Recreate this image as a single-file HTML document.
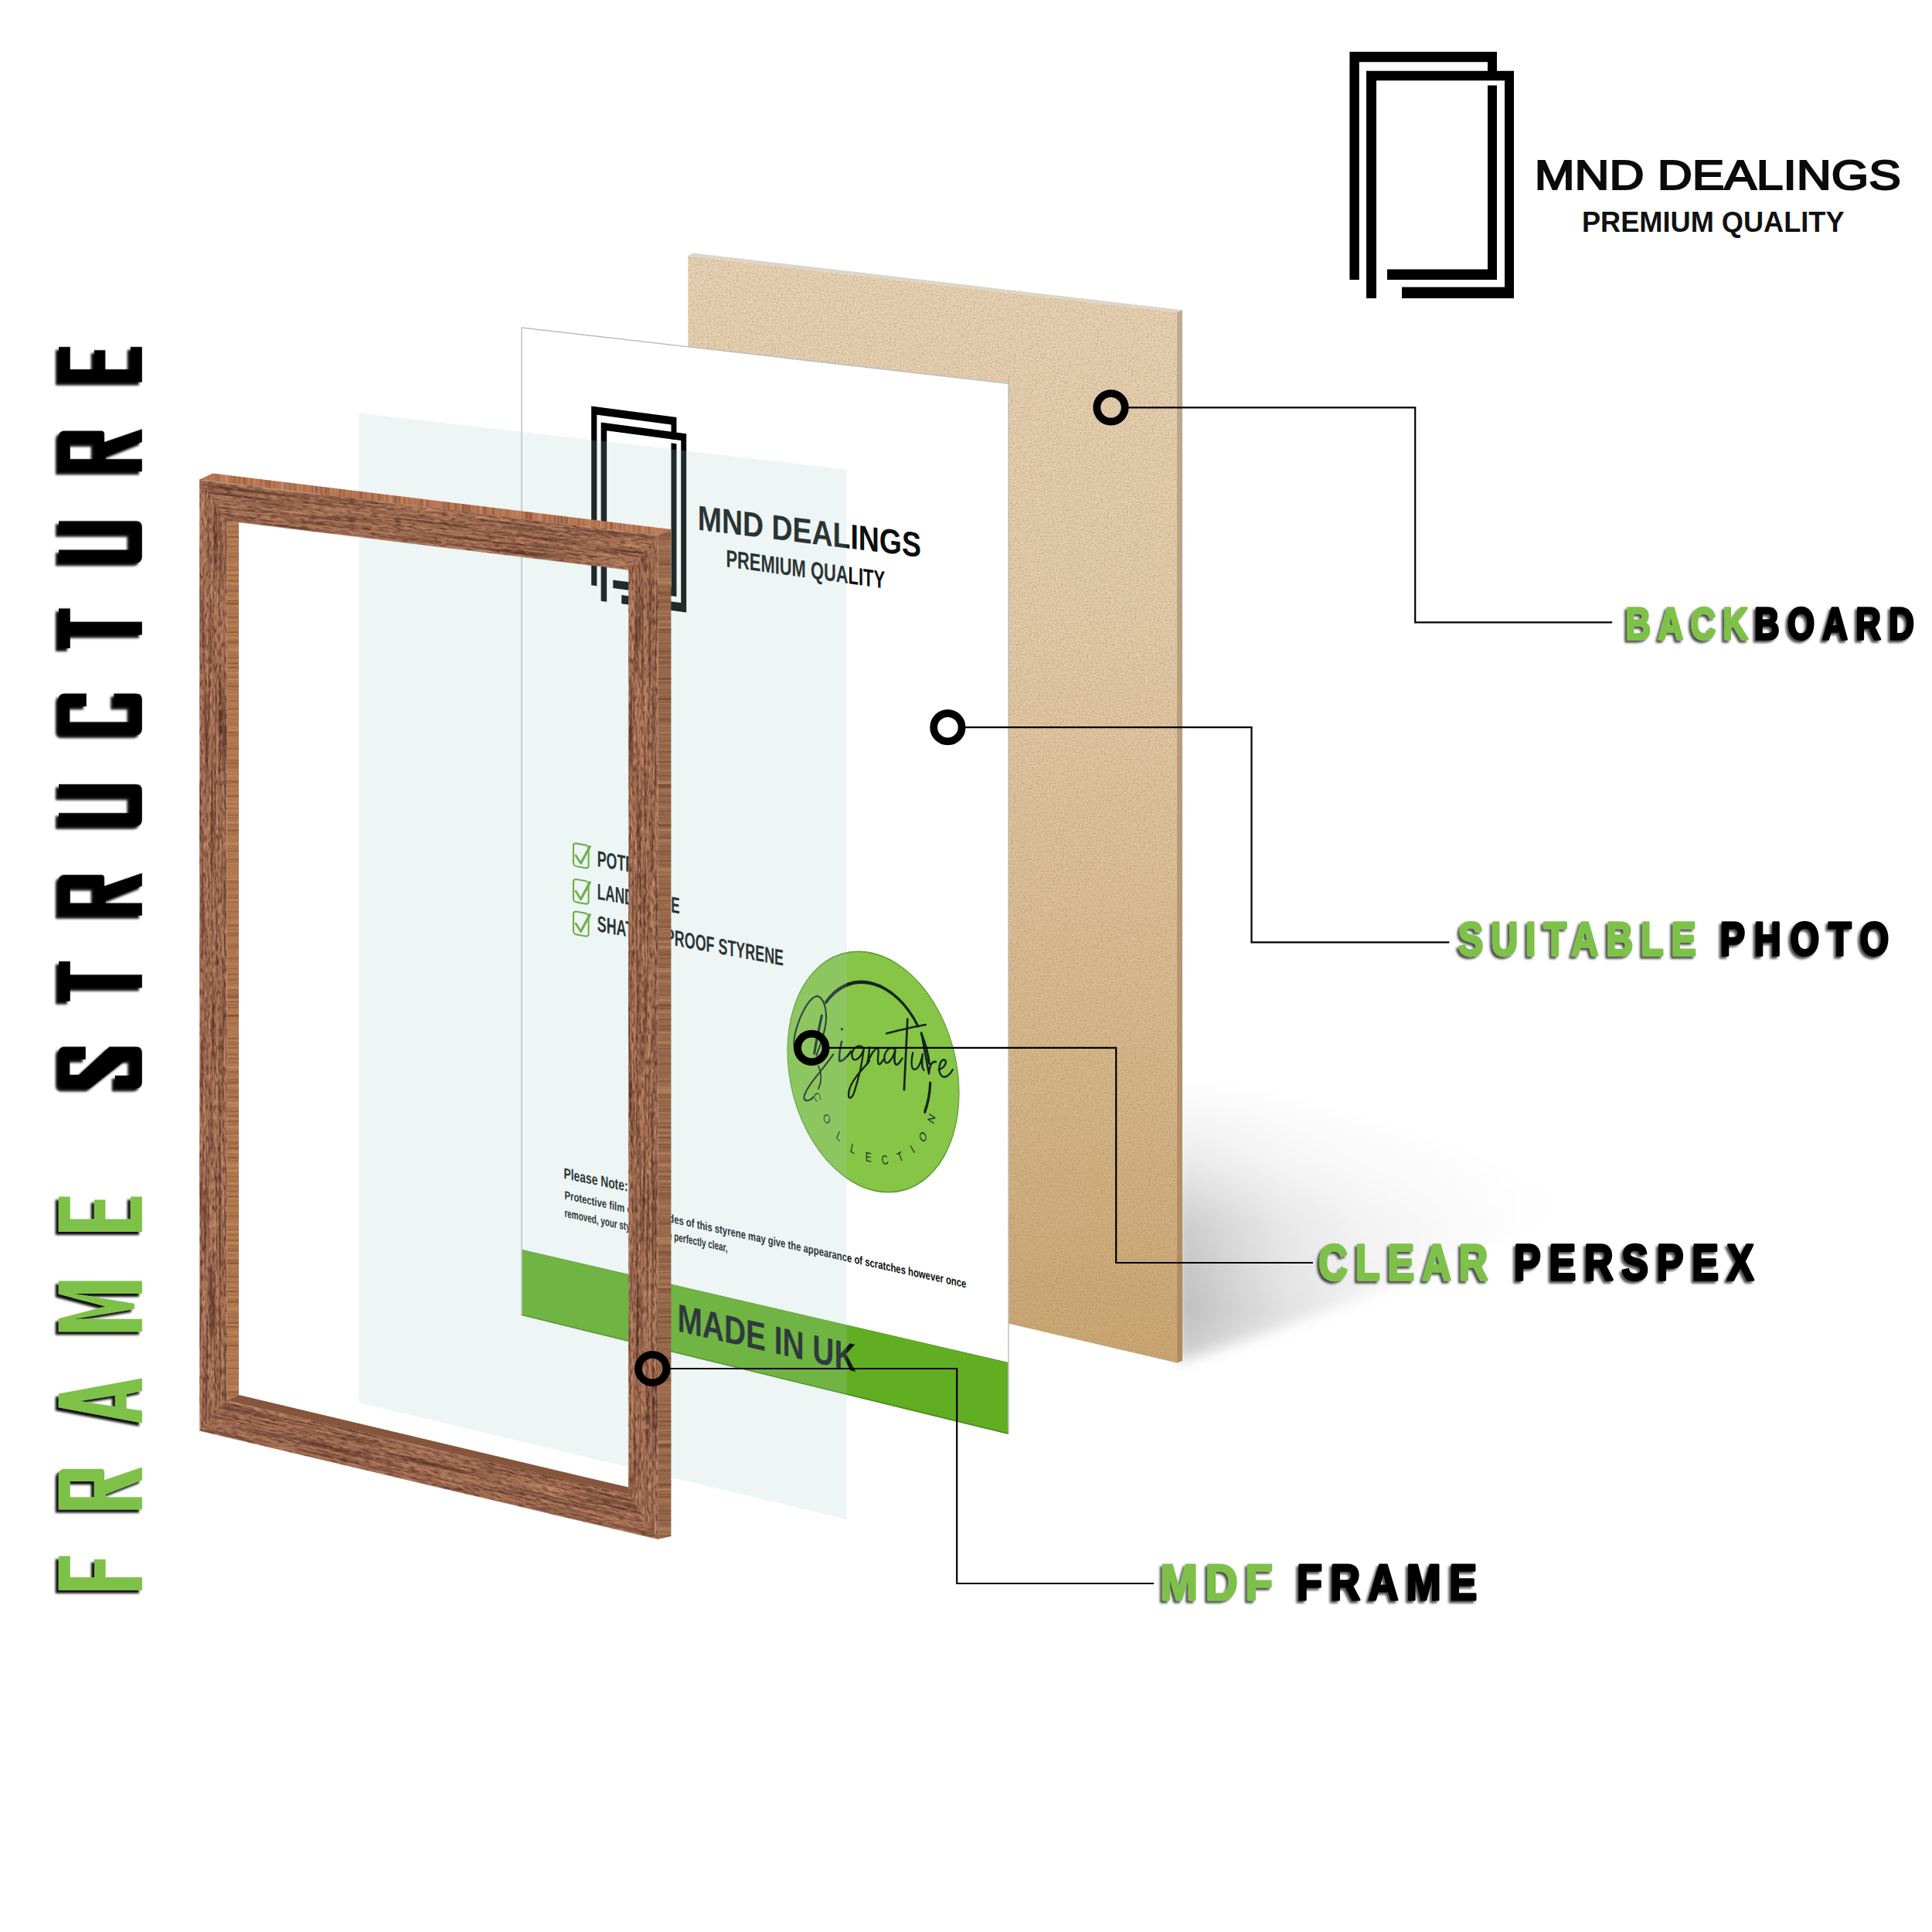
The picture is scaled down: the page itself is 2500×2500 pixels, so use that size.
<!DOCTYPE html>
<html><head><meta charset="utf-8"><title>Frame Structure</title>
<style>
html,body{margin:0;padding:0;background:#fff;}
body{width:2500px;height:2500px;overflow:hidden;font-family:"Liberation Sans",sans-serif;}
svg{display:block;position:absolute;left:0;top:0;}
text{font-family:"Liberation Sans",sans-serif;}
</style></head><body>
<svg width="2500" height="2500" viewBox="0 0 2500 2500">
<defs>

<filter id="ds" x="-20%" y="-20%" width="140%" height="140%">
  <feGaussianBlur in="SourceAlpha" stdDeviation="1.6" result="b"/>
  <feOffset in="b" dx="-4" dy="3.5" result="o"/>
  <feComponentTransfer in="o" result="o2"><feFuncA type="linear" slope="0.95"/></feComponentTransfer>
  <feMerge><feMergeNode in="o2"/><feMergeNode in="SourceGraphic"/></feMerge>
</filter>
<filter id="ds2" x="-10%" y="-30%" width="120%" height="160%">
  <feGaussianBlur in="SourceAlpha" stdDeviation="1.8" result="b"/>
  <feOffset in="b" dx="-3" dy="3" result="o"/>
  <feComponentTransfer in="o" result="o2"><feFuncA type="linear" slope="0.7"/></feComponentTransfer>
  <feMerge><feMergeNode in="o2"/><feMergeNode in="SourceGraphic"/></feMerge>
</filter>
<filter id="blur14" x="-30%" y="-30%" width="160%" height="160%"><feGaussianBlur stdDeviation="9"/></filter>
<filter id="blur1"><feGaussianBlur stdDeviation="0.7"/></filter>
<linearGradient id="gBoard" x1="0" y1="331" x2="0" y2="1763" gradientUnits="userSpaceOnUse">
  <stop offset="0" stop-color="#e6d3b6"/><stop offset="0.35" stop-color="#e1cba9"/>
  <stop offset="0.7" stop-color="#d6b98d"/><stop offset="1" stop-color="#caa775"/>
</linearGradient>
<linearGradient id="gBoardSide" x1="0" y1="401" x2="0" y2="1763" gradientUnits="userSpaceOnUse">
  <stop offset="0" stop-color="#bdab92"/><stop offset="1" stop-color="#ad8a5a"/>
</linearGradient>
<linearGradient id="gShadow" x1="1529" y1="0" x2="2010" y2="0" gradientUnits="userSpaceOnUse">
  <stop offset="0" stop-color="#000" stop-opacity="0.27"/><stop offset="0.12" stop-color="#000" stop-opacity="0.2"/><stop offset="0.28" stop-color="#000" stop-opacity="0.12"/>
  <stop offset="0.5" stop-color="#000" stop-opacity="0.06"/><stop offset="0.8" stop-color="#000" stop-opacity="0.02"/>
  <stop offset="1" stop-color="#000" stop-opacity="0"/>
</linearGradient>
<linearGradient id="gShadowV" x1="0" y1="1395" x2="0" y2="1770" gradientUnits="userSpaceOnUse">
  <stop offset="0" stop-color="#fff" stop-opacity="0"/><stop offset="0.28" stop-color="#fff" stop-opacity="0.3"/><stop offset="0.5" stop-color="#fff" stop-opacity="0.75"/><stop offset="0.8" stop-color="#fff" stop-opacity="0.95"/><stop offset="1" stop-color="#fff" stop-opacity="0.65"/>
</linearGradient>
<mask id="mShadow"><rect x="1400" y="1300" width="800" height="600" fill="url(#gShadowV)"/></mask>
<filter id="mdf" color-interpolation-filters="sRGB" x="0" y="0" width="100%" height="100%">
  <feTurbulence type="fractalNoise" baseFrequency="0.45" numOctaves="2" seed="7" result="n"/>
  <feColorMatrix in="n" type="matrix" values="0 0 0 0 0.62  0 0 0 0 0.45  0 0 0 0 0.27  0.6 0.6 0 0 -0.53" result="sp"/>
  <feComposite in="sp" in2="SourceGraphic" operator="in" result="sp2"/>
  <feMerge><feMergeNode in="SourceGraphic"/><feMergeNode in="sp2"/></feMerge>
</filter>
<filter id="woodV" color-interpolation-filters="sRGB" x="0" y="0" width="100%" height="100%">
  <feTurbulence type="fractalNoise" baseFrequency="0.3 0.008" numOctaves="3" seed="3" result="n"/>
  <feColorMatrix in="n" type="matrix" values="0 0 0 0 0.32  0 0 0 0 0.18  0 0 0 0 0.14  1.6 1.2 0 0 -1.2" result="dk"/>
  <feComposite in="dk" in2="SourceGraphic" operator="in" result="dk2"/>
  <feTurbulence type="fractalNoise" baseFrequency="0.4 0.015" numOctaves="2" seed="11" result="n2"/>
  <feColorMatrix in="n2" type="matrix" values="0 0 0 0 0.82  0 0 0 0 0.6  0 0 0 0 0.44  0 1.8 0 0 -0.82" result="lt"/>
  <feComposite in="lt" in2="SourceGraphic" operator="in" result="lt2"/>
  <feTurbulence type="fractalNoise" baseFrequency="0.4 0.1" numOctaves="2" seed="23" result="g0"/><feGaussianBlur in="g0" stdDeviation="0.6" result="g"/>
  <feColorMatrix in="g" type="matrix" values="0 0 0 0 0.3  0 0 0 0 0.16  0 0 0 0 0.12  2.0 0 0 0 -0.95" result="gd"/>
  <feComposite in="gd" in2="SourceGraphic" operator="in" result="gd2"/>
  <feColorMatrix in="g" type="matrix" values="0 0 0 0 0.84  0 0 0 0 0.63  0 0 0 0 0.46  0 1.7 0 0 -0.86" result="gl"/>
  <feComposite in="gl" in2="SourceGraphic" operator="in" result="gl2"/>
  <feMerge><feMergeNode in="SourceGraphic"/><feMergeNode in="lt2"/><feMergeNode in="dk2"/><feMergeNode in="gl2"/><feMergeNode in="gd2"/></feMerge>
</filter>
<filter id="woodH" color-interpolation-filters="sRGB" x="0" y="0" width="100%" height="100%">
  <feTurbulence type="fractalNoise" baseFrequency="0.008 0.3" numOctaves="3" seed="5" result="n"/>
  <feColorMatrix in="n" type="matrix" values="0 0 0 0 0.32  0 0 0 0 0.18  0 0 0 0 0.14  1.6 1.2 0 0 -1.2" result="dk"/>
  <feComposite in="dk" in2="SourceGraphic" operator="in" result="dk2"/>
  <feTurbulence type="fractalNoise" baseFrequency="0.015 0.4" numOctaves="2" seed="13" result="n2"/>
  <feColorMatrix in="n2" type="matrix" values="0 0 0 0 0.82  0 0 0 0 0.6  0 0 0 0 0.44  0 1.8 0 0 -0.82" result="lt"/>
  <feComposite in="lt" in2="SourceGraphic" operator="in" result="lt2"/>
  <feTurbulence type="fractalNoise" baseFrequency="0.1 0.4" numOctaves="2" seed="25" result="g0"/><feGaussianBlur in="g0" stdDeviation="0.6" result="g"/>
  <feColorMatrix in="g" type="matrix" values="0 0 0 0 0.3  0 0 0 0 0.16  0 0 0 0 0.12  2.0 0 0 0 -0.95" result="gd"/>
  <feComposite in="gd" in2="SourceGraphic" operator="in" result="gd2"/>
  <feColorMatrix in="g" type="matrix" values="0 0 0 0 0.84  0 0 0 0 0.63  0 0 0 0 0.46  0 1.7 0 0 -0.86" result="gl"/>
  <feComposite in="gl" in2="SourceGraphic" operator="in" result="gl2"/>
  <feMerge><feMergeNode in="SourceGraphic"/><feMergeNode in="lt2"/><feMergeNode in="dk2"/><feMergeNode in="gl2"/><feMergeNode in="gd2"/></feMerge>
</filter>
<filter id="sideH" color-interpolation-filters="sRGB" x="0" y="0" width="100%" height="100%">
  <feTurbulence type="fractalNoise" baseFrequency="0.004 0.3" numOctaves="2" seed="31" result="n"/>
  <feColorMatrix in="n" type="matrix" values="0 0 0 0 0.38  0 0 0 0 0.22  0 0 0 0 0.15  1.3 0.9 0 0 -1.08" result="dk"/>
  <feComposite in="dk" in2="SourceGraphic" operator="in" result="dk2"/>
  <feColorMatrix in="n" type="matrix" values="0 0 0 0 0.85  0 0 0 0 0.64  0 0 0 0 0.46  0 0 1.5 0 -0.74" result="lt"/>
  <feComposite in="lt" in2="SourceGraphic" operator="in" result="lt2"/>
  <feMerge><feMergeNode in="SourceGraphic"/><feMergeNode in="lt2"/><feMergeNode in="dk2"/></feMerge>
</filter>
<filter id="sideV" color-interpolation-filters="sRGB" x="0" y="0" width="100%" height="100%">
  <feTurbulence type="fractalNoise" baseFrequency="0.3 0.004" numOctaves="2" seed="37" result="n"/>
  <feColorMatrix in="n" type="matrix" values="0 0 0 0 0.38  0 0 0 0 0.22  0 0 0 0 0.15  1.3 0.9 0 0 -1.08" result="dk"/>
  <feComposite in="dk" in2="SourceGraphic" operator="in" result="dk2"/>
  <feColorMatrix in="n" type="matrix" values="0 0 0 0 0.85  0 0 0 0 0.64  0 0 0 0 0.46  0 0 1.5 0 -0.74" result="lt"/>
  <feComposite in="lt" in2="SourceGraphic" operator="in" result="lt2"/>
  <feMerge><feMergeNode in="SourceGraphic"/><feMergeNode in="lt2"/><feMergeNode in="dk2"/></feMerge>
</filter>
</defs>
<rect width="2500" height="2500" fill="#fff"/>
<g id="logoTR">
<path d="M1746.4,66.9 H1937 V104 H1925 V80.2 H1758.8 V362 H1746.4 Z" fill="#000"/>
<path d="M1925,110.5 H1937 V362 H1795 V348.5 H1925 Z" fill="#000"/>
<path d="M1768,91.8 H1959 V386 H1814 V371.5 H1947 V104.2 H1781 V386 H1768 Z" fill="#000"/>
<text x="1985.7" y="245.2" font-size="54" font-weight="400" textLength="474" lengthAdjust="spacingAndGlyphs" fill="#0b0b0b" stroke="#0b0b0b" stroke-width="2.2">MND DEALINGS</text>
<text x="2047" y="300" font-size="37.6" font-weight="700" textLength="339.5" lengthAdjust="spacingAndGlyphs" fill="#111">PREMIUM QUALITY</text>
</g>
<g filter="url(#blur14)" mask="url(#mShadow)"><polygon points="1522.0,1392.0 1522.0,1764.0 1650.0,1722.0 1800.0,1664.0 1950.0,1600.0 2040.0,1556.0 1900.0,1496.0 1750.0,1448.0 1620.0,1412.0" fill="url(#gShadow)"/></g>
<g id="board">
<polygon points="890.3,331.0 1522.9,404.0 1522.9,1763.4 890.3,1616.0" fill="url(#gBoard)" filter="url(#mdf)"/>
<polygon points="890.3,331.0 897.0,327.4 1530.0,401.2 1522.9,404.0" fill="#ded5c8"/>
<polygon points="1522.9,404.0 1530.0,401.2 1530.0,1760.9 1522.9,1763.4" fill="url(#gBoardSide)"/>
</g>
<g id="photo">
<polygon points="675.0,424.0 1305.0,496.4 1305.0,1855.0 675.0,1701.5" fill="#fff" stroke="#b9bdbf" stroke-width="1.4"/>
<polygon points="675.7,1617.4 1304.3,1763.3 1304.3,1855.6 675.7,1702.1" fill="#62ae22"/>
<line x1="675.7" y1="1701.5" x2="1304.3" y2="1855.0" stroke="#4c8c1c" stroke-width="1.6"/>
<line x1="675.7" y1="1617.4" x2="1304.3" y2="1763.3" stroke="#559a20" stroke-width="1"/>
<g transform="matrix(0.5786,0.0764,0,0.7859,-245.3,339.4)" fill="#000"><path d="M1746.4,66.9 H1937 V104 H1925 V80.2 H1758.8 V362 H1746.4 Z"/><path d="M1925,110.5 H1937 V362 H1795 V348.5 H1925 Z"/><path d="M1768,91.8 H1959 V386 H1814 V371.5 H1947 V104.2 H1781 V386 H1768 Z"/></g>
<text transform="matrix(1,0.1227,0,1,902.7,685.5)" font-size="45" font-weight="700" textLength="289.3" lengthAdjust="spacingAndGlyphs" fill="#0a0e0e" >MND DEALINGS</text>
<text transform="matrix(1,0.1372,0,1,939.4,733.2)" font-size="31.5" font-weight="700" textLength="205.6" lengthAdjust="spacingAndGlyphs" fill="#0a0e0e" >PREMIUM QUALITY</text>
<text transform="matrix(1,0.1737,0,1,772.7,1121.0)" font-size="29" font-weight="700" textLength="78.3" lengthAdjust="spacingAndGlyphs" fill="#0a0e0e" >POTRAIT</text>
<g transform="matrix(1,0.18,0,1,741.2,1089.8)" fill="none" stroke="#5cab2a" stroke-linecap="round" stroke-linejoin="round"><rect x="0.8" y="0.8" width="19.6" height="29.6" rx="3.5" stroke-width="2.1"/><path d="M4,16.5 L10.3,25.5 L22.2,1.5" stroke-width="3"/></g>
<text transform="matrix(1,0.1746,0,1,772.7,1163.5)" font-size="29" font-weight="700" textLength="107.1" lengthAdjust="spacingAndGlyphs" fill="#0a0e0e" >LANDSCAPE</text>
<g transform="matrix(1,0.18,0,1,741.2,1136.2)" fill="none" stroke="#5cab2a" stroke-linecap="round" stroke-linejoin="round"><rect x="0.8" y="0.8" width="19.6" height="29.6" rx="3.5" stroke-width="2.1"/><path d="M4,16.5 L10.3,25.5 L22.2,1.5" stroke-width="3"/></g>
<text transform="matrix(1,0.1848,0,1,772.7,1205.0)" font-size="29" font-weight="700" textLength="241.3" lengthAdjust="spacingAndGlyphs" fill="#0a0e0e" >SHATTER PROOF STYRENE</text>
<g transform="matrix(1,0.18,0,1,741.2,1178.0)" fill="none" stroke="#5cab2a" stroke-linecap="round" stroke-linejoin="round"><rect x="0.8" y="0.8" width="19.6" height="29.6" rx="3.5" stroke-width="2.1"/><path d="M4,16.5 L10.3,25.5 L22.2,1.5" stroke-width="3"/></g>
<g transform="matrix(0.7236,0.177,0,1,1130,1387)"><circle r="153.4" fill="#86c546" stroke="#5c9c30" stroke-width="1.6"/><g fill="none" stroke="#16241f" stroke-width="4.4" stroke-linecap="round" transform="translate(-3,-9)"><path d="M-81.6,-66.1 A105,105 0 0 1 82.7,-64.6"/><path d="M89.0,-55.6 A105,105 0 0 1 103.1,-20.0"/><path d="M104.9,5.5 A105,105 0 0 1 95.2,44.4"/></g><path id="colArc" d="M-108.9,44.0 A117.5,117.5 0 0 0 113.5,30.4" fill="none"/><text font-size="16.5" fill="#1d2a25" letter-spacing="19.5"><textPath href="#colArc" startOffset="4">COLLECTION</textPath></text></g>
<g transform="translate(1015,1270) scale(0.08798)" fill="none" stroke="#16241f" stroke-linecap="round" stroke-linejoin="round"><path stroke-width="24" d="M480,215 C380,230 270,420 200,620 C130,820 120,980 180,1080"/><path stroke-width="24" d="M480,215 C580,230 630,420 610,600 C590,780 520,960 470,1090"/><path stroke-width="36" d="M550,500 C520,640 470,860 440,1060"/><path stroke-width="24" d="M720,1070 C650,1180 520,1330 420,1460 C340,1570 280,1660 290,1720 C300,1770 380,1760 425,1700"/><path stroke-width="20" d="M500,1240 C540,1330 560,1450 500,1580"/></g>
<g transform="translate(1000,1210) scale(0.18118)" fill="none" stroke="#16241f" stroke-linecap="round" stroke-linejoin="round">
<path stroke-width="14" d="M492,760 C480,810 470,860 476,900 C500,905 530,870 560,830"/><circle cx="494" cy="672" r="9" fill="#16241f" stroke="none"/><path stroke-width="13" d="M640,800 C600,770 550,830 570,880 C590,915 640,860 650,810 C640,900 620,1000 585,1110 C565,1180 530,1180 545,1110 C565,1030 640,960 690,900"/><path stroke-width="13" d="M690,800 C690,850 680,890 672,925 C690,870 730,800 750,810 C765,830 740,890 755,920 C765,930 780,905 790,890"/><path stroke-width="13" d="M870,815 C830,780 785,850 800,900 C815,940 860,880 875,820 C868,870 862,910 880,925 C895,930 910,905 925,880"/><path stroke-width="15" d="M962,600 C955,760 945,950 938,1105"/><path stroke-width="14" d="M812,702 C900,680 1000,655 1092,640"/><path stroke-width="13" d="M1000,840 C990,890 985,950 1010,960 C1040,960 1060,900 1070,850 C1065,900 1060,950 1080,965"/><path stroke-width="14" d="M1062,700 C1075,780 1095,880 1115,990 C1120,940 1130,900 1165,905"/><path stroke-width="13" d="M1185,960 C1230,950 1250,900 1225,890 C1190,890 1175,970 1205,1005 C1235,1030 1270,990 1285,960"/></g>
<text transform="matrix(1,0.2024,0,1,729.5,1525.0)" font-size="19.8" font-weight="700" textLength="83.0" lengthAdjust="spacingAndGlyphs" fill="#0a0e0e" >Please Note:</text>
<text transform="matrix(1,0.2216,0,1,730.5,1551.4)" font-size="15.2" font-weight="700" textLength="519.8" lengthAdjust="spacingAndGlyphs" fill="#0a0e0e" >Protective film on both sides of this styrene may give the appearance of scratches however once</text>
<text transform="matrix(1,0.2152,0,1,730.5,1574.6)" font-size="15.2" font-weight="700" textLength="211.0" lengthAdjust="spacingAndGlyphs" fill="#0a0e0e" >removed, your styrene will be perfectly clear,</text>
<text transform="matrix(1,0.2273,0,1,876.5,1722.5)" font-size="51" font-weight="700" textLength="231.0" lengthAdjust="spacingAndGlyphs" fill="#10161a" >MADE IN UK</text>

</g>
<g id="perspex">
<polygon points="464.5,534.4 1095.9,607.5 1095.9,1966.2 464.5,1815.2" fill="#aacdcd" fill-opacity="0.20"/>
</g>
<g id="frame">
<polygon points="258.3,620.6 275.3,612.6 868.4,685.0 851.3,693.0" fill="#b87654" filter="url(#sideV)"/>
<polygon points="851.3,693.0 868.4,685.0 868.4,1988.0 851.3,1991.7" fill="#98684b" filter="url(#sideH)"/>
<polygon points="293.4,674.1 309.0,676.0 309.0,1805.0 293.4,1812.3" fill="#b1774f" filter="url(#sideH)"/>
<polygon points="309.0,1805.0 813.3,1924.6 813.3,1933.7 293.4,1812.3" fill="#85553c"/>
<polygon points="258.3,620.6 293.4,674.1 293.4,1812.3 258.3,1851.4" fill="#a97359" filter="url(#woodV)"/>
<polygon points="851.3,693.0 813.3,737.6 813.3,1933.7 851.3,1991.7" fill="#a97359" filter="url(#woodV)"/>
<g transform="matrix(1,0.1221,0,1,0,-31.538)"><polygon points="258.3,620.6 851.3,620.6 813.3,669.8 293.4,669.8" fill="#a97359" filter="url(#woodH)"/></g>
<g transform="matrix(1,0.2366,0,1,0,-69.418)"><polygon points="293.4,1812.3 813.3,1810.7 851.3,1859.7 258.3,1859.7" fill="#a56f56" filter="url(#woodH)"/></g>
<line x1="258.3" y1="620.6" x2="293.4" y2="674.1" stroke="#6e4330" stroke-width="1" stroke-opacity="0.55"/>
<line x1="851.3" y1="693.0" x2="813.3" y2="737.6" stroke="#6e4330" stroke-width="1" stroke-opacity="0.55"/>
<line x1="258.3" y1="1851.4" x2="293.4" y2="1812.3" stroke="#6e4330" stroke-width="1" stroke-opacity="0.55"/>
<line x1="851.3" y1="1991.7" x2="813.3" y2="1933.7" stroke="#6e4330" stroke-width="1" stroke-opacity="0.55"/>
</g>
<g id="connectors" fill="none" stroke="#000">
<polyline points="1459.5,527.3 1831.2,527.3 1831.2,805.4 2086.2,805.4" stroke-width="2.2"/>
<circle cx="1437.5" cy="527.3" r="18.2" stroke-width="9.8"/>
<polyline points="1248.4,941.2 1619.5,941.2 1619.5,1219.4 1875.4,1219.4" stroke-width="2.2"/>
<circle cx="1226.4" cy="941.2" r="18.2" stroke-width="9.8"/>
<polyline points="1072.3,1355.9 1444.2,1355.9 1444.2,1634.0 1698.9,1634.0" stroke-width="2.2"/>
<circle cx="1050.3" cy="1355.9" r="18.2" stroke-width="9.8"/>
<polyline points="866.2,1771.0 1238.2,1771.0 1238.2,2049.0 1493.2,2049.0" stroke-width="2.2"/>
<circle cx="844.2" cy="1771.0" r="18.2" stroke-width="9.8"/>
</g>
<g filter="url(#ds2)" font-size="56.5" font-weight="700" stroke-width="3.25" stroke-linejoin="round"><text transform="translate(2103.6,826.5) scale(0.8,1)" textLength="198.0" lengthAdjust="spacing" fill="#7ec149" stroke="#7ec149" stroke-width="3.25">BACK</text><text transform="translate(2270.0,826.5) scale(0.8,1)" textLength="258.5" lengthAdjust="spacing" fill="#000" stroke="#000" stroke-width="3.25">BOARD</text></g>
<g filter="url(#ds2)" font-size="60.7" font-weight="700" stroke-width="3.25" stroke-linejoin="round"><text transform="translate(1887.0,1235.5) scale(0.8,1)" textLength="385.0" lengthAdjust="spacing" fill="#7ec149" stroke="#7ec149" stroke-width="3.25">SUITABLE</text><text transform="translate(2225.7,1235.5) scale(0.8,1)" textLength="273.1" lengthAdjust="spacing" fill="#000" stroke="#000" stroke-width="3.25">PHOTO</text></g>
<g filter="url(#ds2)" font-size="65.2" font-weight="700" stroke-width="3.25" stroke-linejoin="round"><text transform="translate(1706.2,1655.5) scale(0.8,1)" textLength="274.0" lengthAdjust="spacing" fill="#7ec149" stroke="#7ec149" stroke-width="3.25">CLEAR</text><text transform="translate(1959.0,1655.5) scale(0.8,1)" textLength="388.1" lengthAdjust="spacing" fill="#000" stroke="#000" stroke-width="3.25">PERSPEX</text></g>
<g filter="url(#ds2)" font-size="65.2" font-weight="700" stroke-width="3.13253" stroke-linejoin="round"><text transform="translate(1501.2,2070.1) scale(0.9,1)" textLength="162.0" lengthAdjust="spacing" fill="#7ec149" stroke="#7ec149" stroke-width="2.89">MDF</text><text transform="translate(1678.0,2070.1) scale(0.83,1)" textLength="281.0" lengthAdjust="spacing" fill="#000" stroke="#000" stroke-width="3.13">FRAME</text></g>
<g id="title" filter="url(#ds)">
<g transform="translate(75.8,2057.8) rotate(-90)" fill-rule="evenodd">
<path transform="translate(0.0,0)" d="M0,0 H44.2 V15 H16.8 V46.2 H40.1 V60.8 H16.8 V108.1 H0 Z" fill="#7ec149"/>
<path transform="translate(104.4,0)" d="M0,0 H44.7 Q52.7,0 52.7,8 V55 Q52.7,59.3 48.7,59.3 H38.2 L55,108.1 H38.2 L19.6,61 H16.2 V108.1 H0 Z M16.2,15 V46 H36.3 V15 Z" fill="#7ec149"/>
<path transform="translate(216.2,0)" d="M20.3,0 H38 L58,108.1 H41.7 L37.3,87.9 H19.2 L16,108.1 H0 Z M28.6,27.6 L21.7,73.1 H35.9 Z" fill="#7ec149"/>
<path transform="translate(334.5,0)" d="M0,0 H17 L32.9,60.6 L48.8,0 H65.8 V108.1 H49.3 V20 L36.5,98 H29.3 L16.5,20 V108.1 H0 Z" fill="#7ec149"/>
<path transform="translate(463.8,0)" d="M0,0 H45.6 V15 H16.6 V46 H41.4 V60.6 H16.6 V93 H45.6 V108.1 H0 Z" fill="#7ec149"/>
<path transform="translate(649.6,0)" d="M8,0 H45.8 Q53.8,0 53.8,8 V35 H37.3 V14.5 H17.5 V26.5 L53.8,65.8 V100.1 Q53.8,108.1 45.8,108.1 H8 Q0,108.1 0,100.1 V73 H16.5 V93.6 H36.5 V86.5 L1.5,42.5 Q0,41 0,38 V8 Q0,0 8,0 Z" fill="#000"/>
<path transform="translate(762.3,0)" d="M0,0 H51.5 V15 H34.25 V108.1 H17.25 V15 H0 Z" fill="#000"/>
<path transform="translate(873.1,0)" d="M0,0 H44.7 Q52.7,0 52.7,8 V55 Q52.7,59.3 48.7,59.3 H38.2 L55,108.1 H38.2 L19.6,61 H16.2 V108.1 H0 Z M16.2,15 V46 H36.3 V15 Z" fill="#000"/>
<path transform="translate(989.0,0)" d="M0,0 H16.8 V92.8 H37.6 V0 H54 V100.1 Q54,108.1 46,108.1 H8 Q0,108.1 0,100.1 Z" fill="#000"/>
<path transform="translate(1106.8,0)" d="M8,0 H45.7 Q53.7,0 53.7,8 V36 H36.9 V14.5 H16.8 V92.8 H36.9 V71.4 H53.7 V100.1 Q53.7,108.1 45.7,108.1 H8 Q0,108.1 0,100.1 V8 Q0,0 8,0 Z" fill="#000"/>
<path transform="translate(1219.0,0)" d="M0,0 H51.5 V15 H34.25 V108.1 H17.25 V15 H0 Z" fill="#000"/>
<path transform="translate(1329.6,0)" d="M0,0 H16.8 V92.8 H37.6 V0 H54 V100.1 Q54,108.1 46,108.1 H8 Q0,108.1 0,100.1 Z" fill="#000"/>
<path transform="translate(1447.6,0)" d="M0,0 H44.7 Q52.7,0 52.7,8 V55 Q52.7,59.3 48.7,59.3 H38.2 L55,108.1 H38.2 L19.6,61 H16.2 V108.1 H0 Z M16.2,15 V46 H36.3 V15 Z" fill="#000"/>
<path transform="translate(1563.3,0)" d="M0,0 H45.6 V15 H16.6 V46 H41.4 V60.6 H16.6 V93 H45.6 V108.1 H0 Z" fill="#000"/>
</g></g>
</svg>
</body></html>
